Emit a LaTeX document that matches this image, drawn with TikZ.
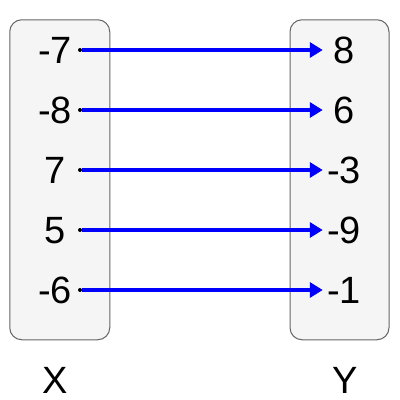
\documentclass[tikz,border=0pt]{standalone}
\usepackage{fontspec}
\setmainfont{Liberation Sans}
\usetikzlibrary{arrows.meta}
\begin{document}
\begin{tikzpicture}[x=1pt,y=-1pt,
  setbox/.style={draw=black!60, fill=black!4, rounded corners=12pt, line width=1pt},
  val/.style={font=\fontsize{38}{38}\selectfont, inner sep=0pt, text height=27pt, text depth=0pt},
  rval/.style={val, minimum width=42pt},
  mapto/.style={draw=blue, line width=4pt, -{Triangle[length=13pt,width=15pt]}},
  dotmark/.style={circle, fill=black, inner sep=0pt, minimum size=4pt}]
\useasboundingbox (0,0) rectangle (400,400);
\fill[white] (0,0) rectangle (400,400);
\node[setbox, minimum width=100pt, minimum height=320pt] (bx) at (59.75,179.75) {};
\node[setbox, minimum width=99pt, minimum height=320pt] (by) at (339.5,179.75) {};
\foreach \i/\a/\b [evaluate=\i as \yy using 50+60*(\i-1)] in {1/-7/8,2/-8/6,3/7/-3,4/5/-9,5/-6/-1} {
  \node[val] (l\i) at (55,\yy) {\a};
  \node[dotmark] (d\i) at (80,\yy) {};
  \node[rval] (r\i) at (344,\yy) {\b};
  \draw[mapto] (d\i.east) -- (r\i.west);
}
\node[val] (xl) at (55,380) {X};
\node[val] (yl) at (345,380) {Y};
\end{tikzpicture}
\end{document}
